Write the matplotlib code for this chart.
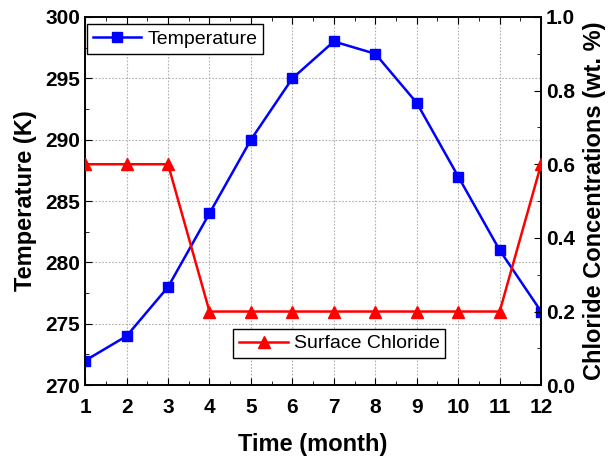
import matplotlib
matplotlib.use("Agg")
import matplotlib.pyplot as plt
from matplotlib.ticker import MultipleLocator

plt.rcParams["font.family"] = ["Liberation Sans", "DejaVu Sans"]

months = [1, 2, 3, 4, 5, 6, 7, 8, 9, 10, 11, 12]
temperature = [272, 274, 278, 284, 290, 295, 298, 297, 293, 287, 281, 276]
chloride = [0.6, 0.6, 0.6, 0.2, 0.2, 0.2, 0.2, 0.2, 0.2, 0.2, 0.2, 0.6]

fig = plt.figure(figsize=(6.08, 4.58), dpi=100)
ax = fig.add_axes([0.14, 0.159, 0.75, 0.804])
ax2 = ax.twinx()

ax.plot(months, temperature, color="#0000ff", lw=1.8, marker="s", ms=7.5,
        label="Temperature", zorder=3)
ax2.plot(months, chloride, color="#ff0000", lw=1.8, marker="^", ms=8,
         label="Surface Chloride", zorder=3)

ax.set_xlim(1, 12)
ax.set_ylim(270, 300)
ax2.set_ylim(0.0, 1.0)
ax.xaxis.set_major_locator(MultipleLocator(1))
ax.xaxis.set_minor_locator(MultipleLocator(0.5))
ax.yaxis.set_major_locator(MultipleLocator(5))
ax.yaxis.set_minor_locator(MultipleLocator(2.5))
ax2.yaxis.set_major_locator(MultipleLocator(0.2))
ax2.yaxis.set_minor_locator(MultipleLocator(0.1))
ax2.yaxis.set_major_formatter(matplotlib.ticker.FormatStrFormatter("%.1f"))

ax.grid(True, which="major", color="#b0b0b0", ls=(0, (1.5, 1.5)), lw=0.8)

ax.tick_params(axis="both", which="both", direction="in", top=True)
ax.tick_params(axis="x", which="major", length=5, labelsize=15, pad=9)
ax.tick_params(axis="y", which="major", length=5, labelsize=15)
ax.tick_params(which="minor", length=3)
ax2.tick_params(axis="y", which="both", direction="in")
ax2.tick_params(axis="y", which="major", length=5, labelsize=15)
ax2.tick_params(axis="y", which="minor", length=3)
for lab in ax.get_xticklabels() + ax.get_yticklabels() + ax2.get_yticklabels():
    lab.set_fontweight("bold")

for a in (ax, ax2):
    for s in a.spines.values():
        s.set_linewidth(1.2)

ax.set_xlabel("Time (month)", fontsize=17, fontweight="bold", labelpad=12)
ax.set_ylabel("Temperature (K)", fontsize=17, fontweight="bold", labelpad=6)
ax2.set_ylabel("Chloride Concentrations (wt. %)", fontsize=17,
               fontweight="bold", labelpad=6)

leg_kw = dict(fontsize=14, fancybox=False, edgecolor="black",
              borderpad=0.3, handlelength=2.5, handletextpad=0.3,
              borderaxespad=0.0, framealpha=1)
l1 = ax.legend(loc="upper left", bbox_to_anchor=(0.004, 0.98), **leg_kw)
l1.get_frame().set_linewidth(1.0)
l2 = ax2.legend(loc="lower right", bbox_to_anchor=(0.79, 0.073), **leg_kw)
l2.get_frame().set_linewidth(1.0)

fig.savefig("out.png", dpi=100)
